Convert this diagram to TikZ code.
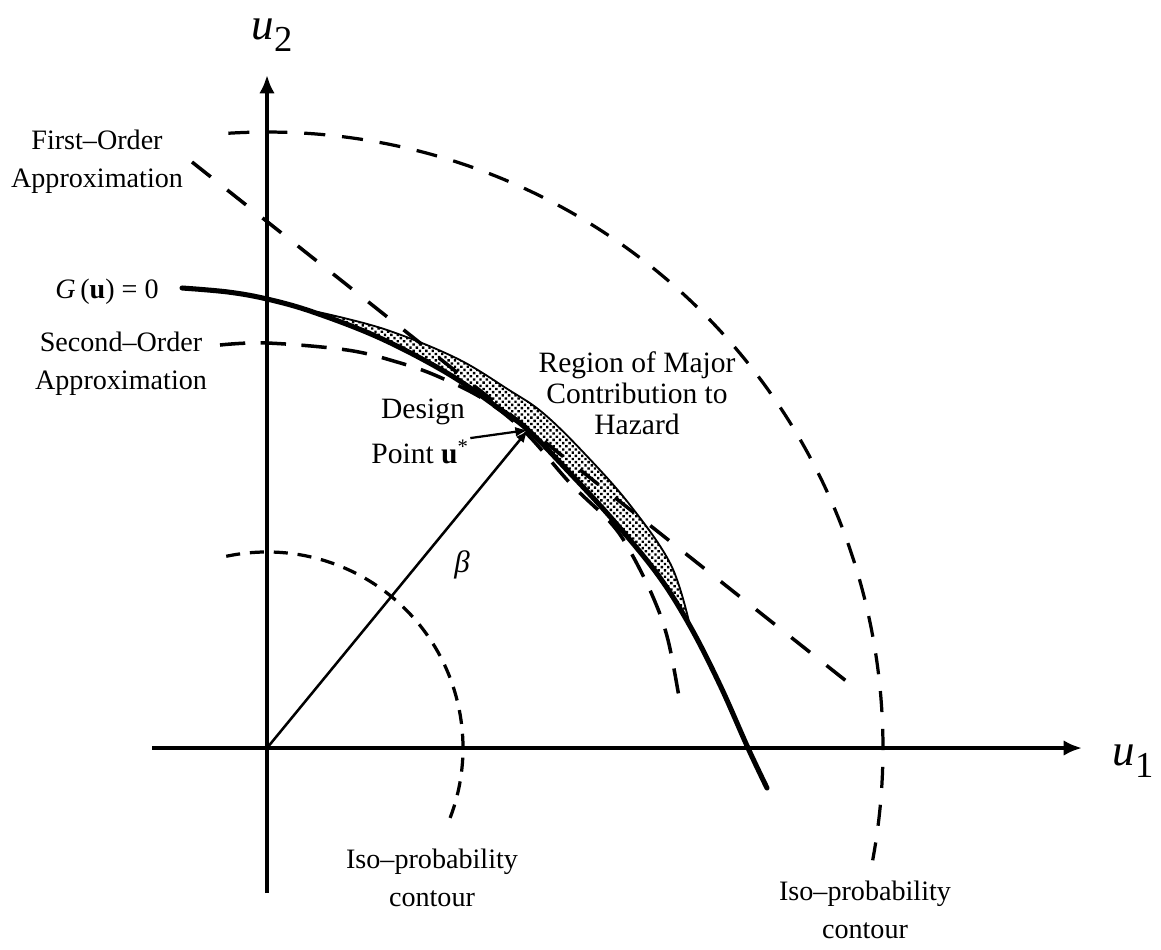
\documentclass[tikz,border=0pt]{standalone}
\usepackage{fontspec}
\setmainfont{Liberation Serif}
\usetikzlibrary{arrows.meta,patterns.meta}
\begin{document}
\begin{tikzpicture}[x=0.025cm,y=-0.025cm,
  lbl/.style={font=\fontsize{20}{27}\selectfont, align=center, inner sep=1pt},
  rlbl/.style={font=\fontsize{21}{22}\selectfont, align=center, inner sep=1pt},
  axislbl/.style={font=\fontsize{32}{32}\selectfont, inner sep=0pt},
  axis/.style={line width=2.8pt, -{Latex[length=13pt,width=11pt]}},
  limit/.style={line width=3.6pt, line cap=round},
  bigdash/.style={line width=2.3pt, dash pattern=on 15pt off 12pt},
  smalldash/.style={line width=2.3pt, dash pattern=on 10pt off 7pt},
  fodash/.style={line width=2.5pt, dash pattern=on 17pt off 15pt},
  sodash/.style={line width=2.5pt, dash pattern=on 18pt off 11pt},
]
\useasboundingbox (0,0) rectangle (1161,949);

% key points
\coordinate (O) at (267,748);
\coordinate (D) at (528,430);
\coordinate (ybot) at (267,893);
\coordinate (ytop) at (267,75);
\coordinate (xleft) at (152,748);
\coordinate (xright) at (1082,748);

% shaded region of major contribution
\fill[pattern={Dots[distance=3.2pt,radius=1.2pt,angle=45]}]
  plot[smooth,tension=0.6] coordinates {(318,312) (384,329) (456,358) (509,390) (543,413) (584,453) (630,505) (671,565) (690,626)}
  -- plot[smooth,tension=0.6] coordinates {(690,626) (658,575) (613,520) (567,470) (528,430) (497,407) (447,373) (380,338) (318,313)}
  -- cycle;
\draw[line width=1.3pt]
  plot[smooth,tension=0.6] coordinates {(318,312) (384,329) (456,358) (509,390) (543,413) (584,453) (630,505) (671,565) (690,626)};

% axes
\draw[axis] (ybot) -- (ytop);
\draw[axis] (xleft) -- (xright);
\node[axislbl] (u2) at (272,35) {\itshape u\raisebox{-0.28em}{\fontsize{26}{26}\selectfont\upshape 2}};
\node[axislbl] (u1) at (1133,761) {\itshape u\raisebox{-0.28em}{\fontsize{26}{26}\selectfont\upshape 1}};

% iso-probability contours
\draw[bigdash] (O) ++(-93.6:616) arc[start angle=-93.6, end angle=10.5, radius=616];
\draw[smalldash] (O) ++(-102:196) arc[start angle=-102, end angle=23.6, radius=196];

% first-order approximation (tangent line)
\coordinate (fo1) at (192,162);
\coordinate (fo2) at (855,688);
\draw[fodash] (fo1) -- (fo2);

% second-order approximation
\draw[sodash] plot[smooth,tension=0.6] coordinates {(220,345) (267,343) (347,350) (397,362) (437,376) (485,400) (526,433) (570,483) (610,522) (630,551) (653,597) (668,640) (680,703)};

% limit state surface G(u)=0
\draw[limit] plot[smooth,tension=0.6] coordinates {(182,288) (228,292) (267,299) (313,312) (380,338) (447,373) (497,407) (528,430) (567,470) (613,520) (658,575) (690,626) (720,685) (748,748) (767,788)};

% beta
\draw[line width=1.8pt, -{Latex[length=9pt,width=7pt]}] (O) -- (D);
\node[rlbl, font=\fontsize{22}{22}\selectfont\itshape] (beta) at (462,565) {β};

% labels
\node[lbl] (fo) at (97,162) {First--Order\\Approximation};
\node[lbl] (glbl) at (107,292) {{\itshape G}\,(\textbf{u}) = 0};
\node[lbl] (so) at (121,364) {Second--Order\\Approximation};
\node[rlbl] (dsg) at (423,412) {Design};
\node[rlbl] (pt) at (420,452) {Point \textbf{u}\textsuperscript{*}};
\node[rlbl] (reg) at (637,393) {Region of Major\\Contribution to\\Hazard};
\node[lbl] (iso1) at (432,878) {Iso--probability\\contour};
\node[lbl] (iso2) at (865,910) {Iso--probability\\contour};

\draw[line width=1.6pt, -{Latex[length=9pt,width=7pt]}] (pt.north east) -- (D);
\end{tikzpicture}
\end{document}
